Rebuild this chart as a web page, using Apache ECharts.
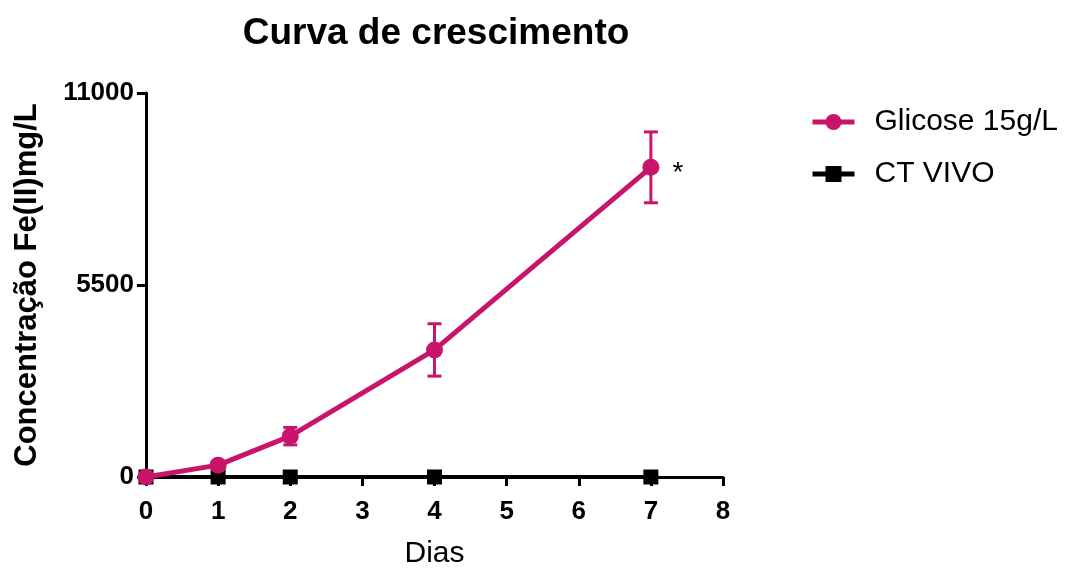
<!DOCTYPE html>
<html>
<head>
<meta charset="utf-8">
<script src="https://cdn.jsdelivr.net/npm/echarts@6/dist/echarts.min.js"></script>
<style>
html,body{margin:0;padding:0;background:#fff;}
#chart{width:1072px;height:568px;}
</style>
</head>
<body>
<div id="chart"></div>
<script>
const days = [0, 1, 2, 4, 7];
const glicose = [0, 340, 1170, 3640, 8870];
const glicoseErr = [0, 80, 250, 750, 1015];
const ctVivo = [0, 0, 0, 0, 0];
const yTicks = [0, 5500, 11000];
const seriesNames = ['Glicose 15g/L', 'CT VIVO'];

const PINK = '#C8156A';
const FONT = '"Liberation Sans", Arial, Helvetica, sans-serif';

const chart = echarts.init(document.getElementById('chart'));

const glicoseData = days.map((d, i) => {
  const item = { value: [d, glicose[i]] };
  if (i === days.length - 1) {
    item.label = {
      show: true, position: 'right', distance: 13, formatter: '*',
      color: '#000', fontSize: 28, fontFamily: FONT, offset: [0, 6]
    };
  }
  return item;
});
const errData = days.map((d, i) => [d, glicose[i] - glicoseErr[i], glicose[i] + glicoseErr[i]]);
const ctData = days.map((d, i) => [d, ctVivo[i]]);

chart.setOption({
  animation: false,
  backgroundColor: '#fff',
  graphic: [{
    type: 'text', x: 436, y: 34,
    style: { text: 'Curva de crescimento', textAlign: 'center', textVerticalAlign: 'middle',
      font: 'bold 37px ' + FONT, fill: '#000' }
  }],
  legend: {
    data: seriesNames,
    orient: 'vertical', left: 810, top: 106, padding: 0,
    itemWidth: 42, itemHeight: 20, itemGap: 20,
    lineStyle: { width: 5 },
    textStyle: { fontFamily: FONT, fontSize: 30, color: '#000', padding: [0, 0, 0, 15], lineHeight: 32 }
  },
  grid: { left: 146, right: 349, top: 93, bottom: 91, containLabel: false, outerBoundsMode: 'none' },
  xAxis: {
    type: 'value', min: 0, max: 8, interval: 1,
    name: 'Dias', nameLocation: 'middle', nameGap: 62,
    nameTextStyle: { fontFamily: FONT, fontSize: 30, color: '#000' },
    axisLine: { show: true, lineStyle: { color: '#000', width: 3 } },
    axisTick: { show: true, length: 9, lineStyle: { color: '#000', width: 3 } },
    axisLabel: { fontFamily: FONT, fontSize: 26, fontWeight: 'bold', color: '#000', margin: 22,
      formatter: v => String(v) },
    splitLine: { show: false }
  },
  yAxis: {
    type: 'value', min: yTicks[0], max: yTicks[yTicks.length - 1], interval: yTicks[1] - yTicks[0],
    name: 'Concentração Fe(II)mg/L', nameLocation: 'middle', nameGap: 103, nameRotate: 90,
    nameTextStyle: { fontFamily: FONT, fontSize: 31, fontWeight: 'bold', color: '#000' },
    axisLine: { show: true, lineStyle: { color: '#000', width: 3 } },
    axisTick: { show: true, length: 9, lineStyle: { color: '#000', width: 3 } },
    axisLabel: { fontFamily: FONT, fontSize: 26, fontWeight: 'bold', color: '#000', margin: 12,
      formatter: v => String(v) },
    splitLine: { show: false }
  },
  series: [
    {
      name: 'CT VIVO', type: 'line', data: ctData,
      symbol: 'rect', symbolSize: 15,
      itemStyle: { color: '#000' },
      lineStyle: { color: '#000', width: 4 },
      z: 3
    },
    {
      name: 'errbars', type: 'custom', data: errData,
      renderItem: function (params, api) {
        const x = api.value(0);
        const lo = api.coord([x, api.value(1)]);
        const hi = api.coord([x, api.value(2)]);
        const cap = 7;
        const st = { stroke: PINK, lineWidth: 3 };
        return {
          type: 'group',
          children: [
            { type: 'line', shape: { x1: lo[0], y1: lo[1], x2: hi[0], y2: hi[1] }, style: st },
            { type: 'line', shape: { x1: lo[0] - cap, y1: lo[1], x2: lo[0] + cap, y2: lo[1] }, style: st },
            { type: 'line', shape: { x1: hi[0] - cap, y1: hi[1], x2: hi[0] + cap, y2: hi[1] }, style: st }
          ]
        };
      },
      z: 4, silent: true
    },
    {
      name: 'Glicose 15g/L', type: 'line', data: glicoseData,
      symbol: 'circle', symbolSize: 17,
      itemStyle: { color: PINK },
      lineStyle: { color: PINK, width: 5 },
      z: 5
    }
  ]
});
</script>
</body>
</html>
